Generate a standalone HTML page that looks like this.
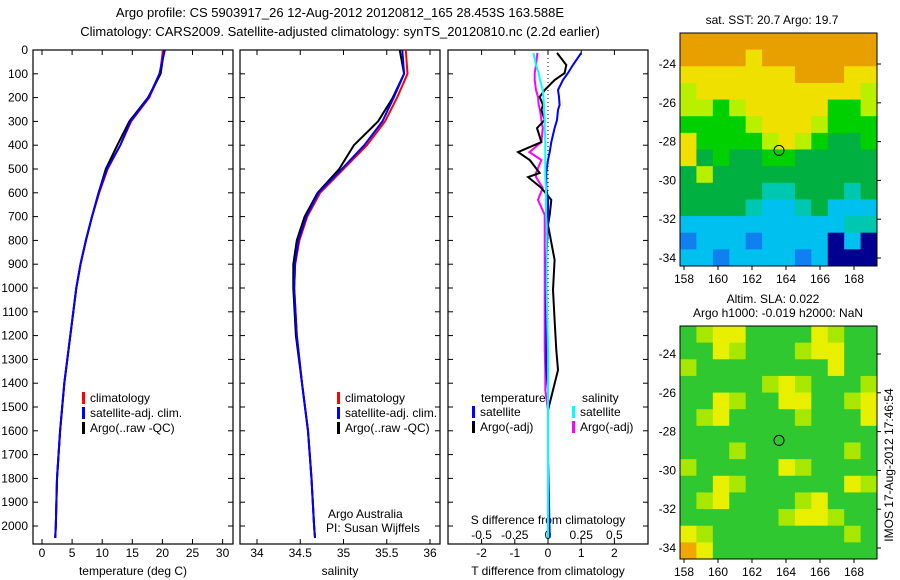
<!DOCTYPE html>
<html><head><meta charset="utf-8"><style>
body{margin:0;background:#fff;width:900px;height:580px;overflow:hidden}
svg{display:block;font-family:"Liberation Sans",sans-serif;font-size:12px}
</style></head><body>
<svg id="fig" width="900" height="580" viewBox="0 0 900 580">
<text x="340" y="17" text-anchor="middle" font-size="13">Argo profile: CS 5903917_26 12-Aug-2012 20120812_165 28.453S 163.588E</text>
<text x="340" y="36" text-anchor="middle" font-size="13">Climatology: CARS2009. Satellite-adjusted climatology: synTS_20120810.nc (2.2d earlier)</text>
<g id="g"></g>
<text transform="translate(893,465) rotate(-90)" text-anchor="middle" font-size="12">IMOS 17-Aug-2012 17:46:54</text>
</svg>
<script>
// ---- data ----
const depths = [0,100,200,300,400,500,600,700,800,900,1000,1200,1400,1600,1800,2000,2050];
const tempClim = [20.1,19.6,17.8,14.8,13.0,10.9,9.5,8.3,7.3,6.4,5.7,4.7,3.7,3.0,2.5,2.3,2.2];
const tempSat  = [20.4,19.5,17.7,14.7,13.0,10.8,9.4,8.3,7.3,6.4,5.7,4.7,3.7,3.0,2.5,2.3,2.2];
const tempArgo = [20.3,19.7,17.6,14.5,12.5,10.6,9.4,8.3,7.3,6.4,5.7,4.7,3.7,3.0,2.5,2.3,2.2];
const salClim = [35.72,35.74,35.62,35.48,35.27,35.0,34.73,34.58,34.49,34.44,34.43,34.46,34.52,34.59,34.63,34.66,34.67];
const salSat  = [35.68,35.70,35.58,35.45,35.24,34.98,34.71,34.57,34.48,34.44,34.43,34.46,34.52,34.59,34.63,34.66,34.67];
const salArgo = [35.65,35.70,35.57,35.40,35.12,34.95,34.70,34.55,34.46,34.42,34.42,34.45,34.52,34.59,34.63,34.66,34.67];
const diffDepths = [12,63,97,126,168,197,231,252,294,328,387,429,462,517,534,580,630,693,735,882,1008,1134,1260,1345,1429,1513,1700,2050];
const tDiffSat  = [1.0,0.75,0.6,0.45,0.3,0.33,0.35,0.3,0.27,0.2,0.1,0.05,0.0,-0.05,-0.05,-0.05,0.0,0.0,0.0,-0.05,-0.05,-0.05,-0.05,-0.05,0.0,0.0,0.0,0.05];
const tDiffArgo = [0.27,0.55,0.5,0.2,-0.1,-0.25,-0.15,-0.2,-0.1,-0.33,-0.2,-0.9,-0.55,-0.25,-0.6,-0.2,0.1,0.05,0.0,0.2,0.15,0.2,0.25,0.3,0.15,0.0,0.0,0.0];
const sDiffSat  = [-0.11,-0.09,-0.07,-0.06,-0.04,-0.035,-0.03,-0.03,-0.025,-0.025,-0.02,-0.02,-0.02,-0.02,-0.02,-0.015,-0.015,-0.015,-0.01,-0.01,-0.01,-0.005,0,0,0,0,0,0];
const sDiffArgo = [-0.08,-0.09,-0.1,-0.1,-0.09,-0.075,-0.07,-0.06,-0.05,-0.04,-0.05,-0.14,-0.05,-0.09,-0.09,-0.04,-0.075,-0.025,-0.025,-0.025,-0.025,-0.025,-0.025,-0.02,-0.02,0,0,0];
const depthTicks = [0,100,200,300,400,500,600,700,800,900,1000,1100,1200,1300,1400,1500,1600,1700,1800,1900,2000];
const tempTicks = [0,5,10,15,20,25,30];
const salTicks = [34,34.5,35,35.5,36];
const tdTicks = [-2,-1,0,1,2];
const sdTicks = [-0.5,-0.25,0,0.25,0.5];
const lonTicks = [158,160,162,164,166,168];
const latTicks = [-24,-26,-28,-30,-32,-34];
const sstRows = ["OOOOOOOOOOOO","OOOOYOOOOOOO","YYYYYYYOOOYY","LYYYYYYYYYYL","LLGLYYYYYGGL","GGGGLYYYLGGG","YGGGGLYLGDDG","YDGDDGGDDDDD","DLDDDDDDDDDD","DDDDDCCDDDCD","DDDDCBBCDBBB","BBBBBBBBBBCC","bBBBbBBBBNBN","BBbBBBBbBNNN"];
const slaRows = ["GLYYGGGGYLGG","GGYLGGGLYYGG","LGGGGGGGGYGG","GGGGGLYLGGGL","GGYLGGYYGGLY","GLYGGGGLGGGY","GGGGGGGGGGGG","GGGLGGGGGGLG","LGGGGGYLGGGG","GGYLGGGGGGYL","GLYGGGGLYGGG","GGGGGGLYYLGG","YLGGGGGGGGLG","OYGGGGGGGGGG"];
const argoLon = 163.588, argoLat = -28.453;
// ---- helpers ----
const NS="http://www.w3.org/2000/svg", G=document.getElementById('g');
function mk(t,a,p){const e=document.createElementNS(NS,t);for(const k in a)e.setAttribute(k,a[k]);(p||G).appendChild(e);return e;}
const y = d => 50 + d*0.238;
const xT = v => 42 + v*6.02;
const xS = v => 257 + (v-34)*86.5;
const xD = v => 548 + v*33.2;
const xSD = v => xD(v*4);
function panel(x0,x1,name){const r=mk('rect',{x:x0,y:50,width:x1-x0,height:494,fill:'none',stroke:'#000','stroke-width':1.2});}
function line(xs,ds,fx,col,name,w){const p=xs.map((v,i)=>fx(v).toFixed(1)+','+y(ds[i]).toFixed(1)).join(' ');const e=mk('polyline',{points:p,fill:'none',stroke:col,'stroke-width':w||2});}
function txt(x,yy,s,anc,name){const e=mk('text',{x:x,y:yy,'text-anchor':anc||'start'});e.textContent=s;return e;}
function legend(x,yy,cols,labels,name){cols.forEach((c,i)=>{const r=mk('rect',{x:x,y:yy+i*15-10,width:3,height:12,fill:c});txt(x+8,yy+i*15,labels[i],'start',name+'-entry');});}
// panels
panel(33,233,'temperature-panel');panel(240,440,'salinity-panel');panel(448,648,'difference-panel');
depthTicks.forEach(d=>{txt(28,y(d)+4,String(d),'end','depth-tick-label');
 [[33,5],[233,-5],[240,5],[440,-5],[448,5],[648,-5]].forEach(([x,l])=>{const t=mk('line',{x1:x,x2:x+l,y1:y(d),y2:y(d),stroke:'#000'});});});
function xticks(ticks,fx,name,yy){ticks.forEach(v=>{const t=mk('line',{x1:fx(v),x2:fx(v),y1:544,y2:539,stroke:'#000'});
 const u=mk('line',{x1:fx(v),x2:fx(v),y1:50,y2:55,stroke:'#000'});
 txt(fx(v),yy||557,String(v),'middle',name+'-tick-label');});}
xticks(tempTicks,xT,'temp');xticks(salTicks,xS,'sal');xticks(tdTicks,xD,'tdiff');
sdTicks.forEach(v=>txt(xSD(v),539,String(v),'middle','sdiff-tick-label'));
txt(133,575,'temperature (deg C)','middle','temp-axis-title');
txt(340,575,'salinity','middle','sal-axis-title');
txt(548,575,'T difference from climatology','middle','tdiff-axis-title');
txt(548,524,'S difference from climatology','middle','sdiff-axis-title');
// profiles
line(tempClim,depths,xT,'#f00','temp-climatology');line(tempArgo,depths,xT,'#000','temp-argo');line(tempSat,depths,xT,'#00f','temp-satellite');
line(salClim,depths,xS,'#f00','sal-climatology');line(salArgo,depths,xS,'#000','sal-argo');line(salSat,depths,xS,'#00f','sal-satellite');
const z=mk('line',{x1:548,x2:548,y1:50,y2:544,stroke:'#000','stroke-dasharray':'1,3'});
line(sDiffArgo,diffDepths,xSD,'#f0f','sdiff-argo');line(tDiffArgo,diffDepths,xD,'#000','tdiff-argo');line(tDiffSat,diffDepths,xD,'#00f','tdiff-satellite');line(sDiffSat,diffDepths,xSD,'#0ff','sdiff-satellite');
legend(82,402,['#f00','#00f','#000'],['climatology','satellite-adj. clim.','Argo(..raw -QC)'],'temp-legend');
legend(337,402,['#f00','#00f','#000'],['climatology','satellite-adj. clim.','Argo(..raw -QC)'],'sal-legend');
txt(481,402,'temperature','start','legend-temp-header');txt(582,402,'salinity','start','legend-sal-header');
legend(472,416,['#00f','#000'],['satellite','Argo(-adj)'],'tdiff-legend');
legend(572,416,['#0ff','#f0f'],['satellite','Argo(-adj)'],'sdiff-legend');
txt(328,518,'Argo Australia','start','credit-argo');txt(326,532,'PI: Susan Wijffels','start','credit-pi');
// maps
const cmap={O:'#e8a000',Y:'#f0e000',L:'#b8f000',G:'#00d000',D:'#00b040',C:'#00c8b0',B:'#00c0f0',b:'#1080f0',N:'#000090'};
const cmap2={O:'#f0a800',Y:'#e8f000',L:'#a8e800',G:'#30c830'};
function map(y0,rows,pal,name,yLat){
 const x0=680,x1=877,y1=y0+233;
 const nr=rows.length,nc=rows[0].length,cw=(x1-x0)/nc,ch=(y1-y0)/nr;
 rows.forEach((r,i)=>[...r].forEach((c,j)=>{const e=mk('rect',{x:x0+j*cw,y:y0+i*ch,width:cw+0.5,height:ch+0.5,fill:pal[c]});}));
 const fr=mk('rect',{x:x0,y:y0,width:x1-x0,height:y1-y0,fill:'none',stroke:'#000'});
 const lx=v=>684+(v-158)*17, ly=v=>yLat+(-24-v)*19.4;
 lonTicks.forEach(v=>{const t=mk('line',{x1:lx(v),x2:lx(v),y1:y1,y2:y1+4,stroke:'#000'});txt(lx(v),y1+17,String(v),'middle',name+'-lon-label');});
 latTicks.forEach(v=>{const t=mk('line',{x1:x1,x2:x1+4,y1:ly(v),y2:ly(v),stroke:'#000'});txt(676,ly(v)+4,String(v),'end',name+'-lat-label');});
 const c=mk('circle',{cx:lx(argoLon),cy:ly(argoLat),r:5,fill:'none',stroke:'#000'});
}
map(33,sstRows,cmap,'sst-map',64);
map(326,slaRows,cmap2,'sla-map',354);
txt(772,24,'sat. SST: 20.7 Argo: 19.7','middle','sst-map-title');
txt(773,303,'Altim. SLA: 0.022','middle','sla-map-title');
txt(778,317,'Argo h1000: -0.019 h2000: NaN','middle','sla-map-subtitle');
</script>
</body></html>
